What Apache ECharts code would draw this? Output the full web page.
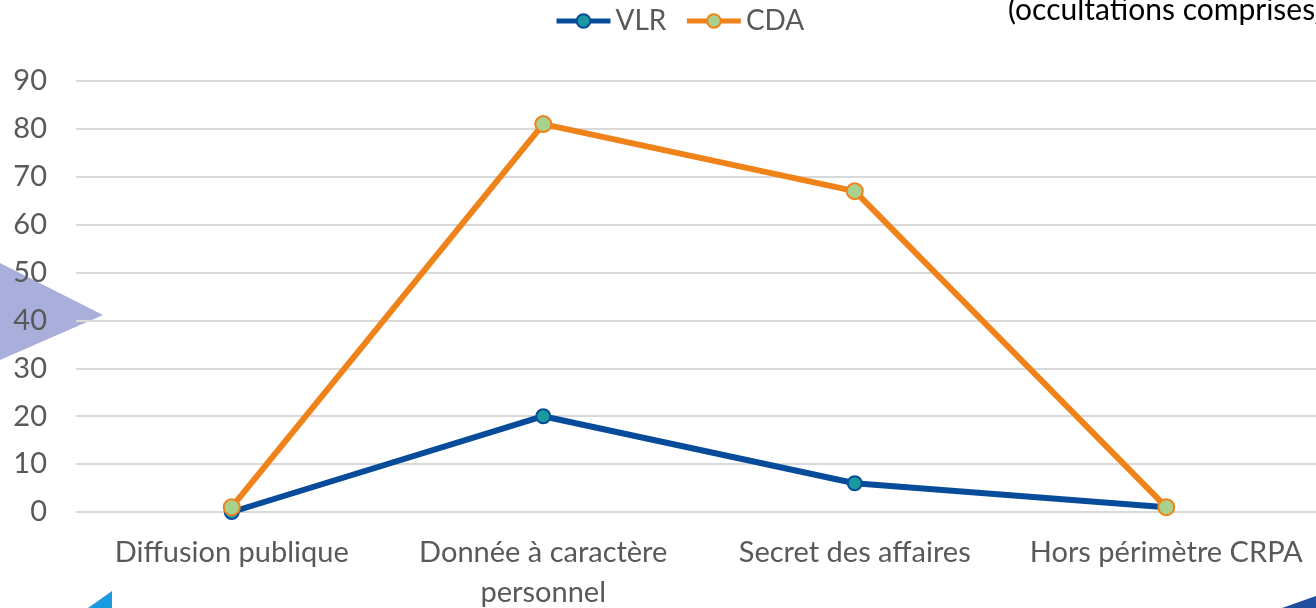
<!DOCTYPE html>
<html><head><meta charset="utf-8">
<script src="https://cdn.jsdelivr.net/npm/echarts@6/dist/echarts.min.js"></script>
<style>html,body{margin:0;padding:0;background:#fff}#c{width:1316px;height:608px}</style>
</head><body><div id="c"></div>
<script>
const categories = ['Diffusion publique', 'Donnée à caractère\npersonnel', 'Secret des affaires', 'Hors périmètre CRPA'];
const vlr = [0, 20, 6, 1];
const cda = [1, 81, 67, 1];
const yTicks = { min: 0, max: 90, interval: 10 };

const chart = echarts.init(document.getElementById('c'), null, { renderer: 'canvas' });
const font = 'Lato';
chart.setOption({
  animation: false,
  backgroundColor: '#fff',
  textStyle: { fontFamily: font },
  legend: {
    top: 2, left: 549, itemWidth: 54, itemHeight: 17, itemGap: 18,
    lineStyle: { width: 5 },
    textStyle: { fontFamily: font, fontSize: 28, color: '#595959' },
    data: ['VLR', 'CDA']
  },
  grid: { left: 76, top: 81, width: 1246, height: 431, outerBoundsMode: 'none', containLabel: false },
  xAxis: {
    type: 'category', data: categories, boundaryGap: true,
    axisLine: { show: false }, axisTick: { show: false },
    axisLabel: { fontFamily: font, fontSize: 29, color: '#595959', margin: 21, lineHeight: 40, interval: 0 }
  },
  yAxis: {
    type: 'value', min: yTicks.min, max: yTicks.max, interval: yTicks.interval,
    axisLine: { show: false }, axisTick: { show: false },
    axisLabel: { fontFamily: font, fontSize: 29, color: '#595959', margin: 29 },
    splitLine: { lineStyle: { color: '#D9D9D9', width: 2 } }
  },
  series: [
    { name: 'VLR', type: 'line', data: vlr, symbol: 'circle', symbolSize: 14,
      lineStyle: { color: '#064C9A', width: 6 },
      itemStyle: { color: '#1A9AA0', borderColor: '#064C9A', borderWidth: 2 }, z: 2 },
    { name: 'CDA', type: 'line', data: cda, symbol: 'circle', symbolSize: 16,
      lineStyle: { color: '#F0821A', width: 6 },
      itemStyle: { color: '#A9D18E', borderColor: '#F0821A', borderWidth: 2 }, z: 3 }
  ],
  graphic: [
    { type: 'polygon', z: -1, shape: { points: [[0, 263], [103, 315], [0, 360]] }, style: { fill: '#A9AEDB' } },
    { type: 'polygon', shape: { points: [[88, 608], [112, 591], [112, 608]] }, style: { fill: '#1A9BE0' } },
    { type: 'polygon', shape: { points: [[1282, 608], [1316, 596], [1316, 608]] }, style: { fill: '#1E4E9C' } },
    { type: 'text', x: 1008, y: 10, style: { text: '(occultations comprises)', fontFamily: font, fontSize: 30, fill: '#000', verticalAlign: 'middle', align: 'left' } }
  ]
});
</script></body></html>
